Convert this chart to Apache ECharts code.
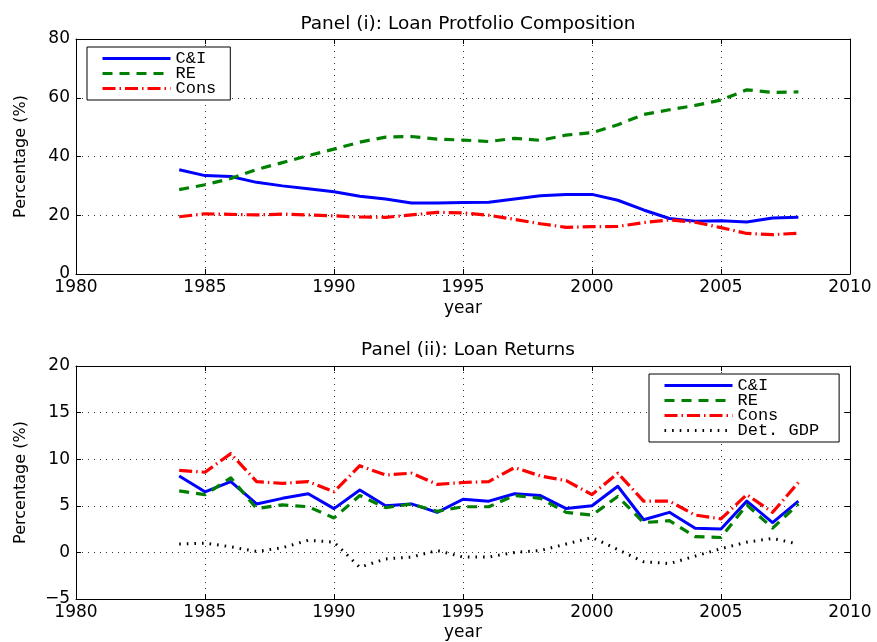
<!DOCTYPE html>
<html>
<head>
<meta charset="utf-8">
<script src="https://cdn.jsdelivr.net/npm/echarts@6/dist/echarts.min.js"></script>
<style>
  html, body { margin: 0; padding: 0; background: #fff; }
  #chart { width: 877px; height: 642px; }
</style>
</head>
<body>
<div id="chart"></div>
<script>
// Years covered by both panels
const years = [1984, 1985, 1986, 1987, 1988, 1989, 1990, 1991, 1992, 1993, 1994, 1995, 1996,
               1997, 1998, 1999, 2000, 2001, 2002, 2003, 2004, 2005, 2006, 2007, 2008];

// Panel (i): portfolio shares, %
const ciShare   = [35.5, 33.5, 33.2, 31.2, 30.0, 29.0, 28.0, 26.5, 25.5, 24.2, 24.2, 24.3, 24.4,
                   25.5, 26.6, 27.1, 27.1, 25.1, 21.8, 18.9, 18.0, 18.1, 17.7, 19.1, 19.3];
const reShare   = [28.7, 30.4, 32.5, 35.6, 37.9, 40.3, 42.5, 44.9, 46.6, 46.8, 45.9, 45.6, 45.1,
                   46.2, 45.5, 47.3, 48.1, 50.8, 54.3, 55.9, 57.4, 59.2, 62.7, 61.8, 62.0];
const consShare = [19.5, 20.5, 20.3, 20.1, 20.4, 20.1, 19.8, 19.4, 19.3, 20.1, 21.0, 20.8, 20.0,
                   18.6, 17.1, 15.9, 16.1, 16.2, 17.5, 18.4, 17.6, 15.8, 13.8, 13.4, 13.9];

// Panel (ii): loan returns and detrended GDP, %
const ciRet   = [8.2, 6.5, 7.6, 5.2, 5.8, 6.3, 4.7, 6.7, 5.0, 5.2, 4.3, 5.7, 5.5,
                 6.3, 6.1, 4.7, 5.0, 7.1, 3.5, 4.3, 2.6, 2.5, 5.5, 3.2, 5.5];
const reRet   = [6.6, 6.2, 8.0, 4.7, 5.1, 4.9, 3.7, 6.1, 4.8, 5.2, 4.4, 4.9, 4.9,
                 6.1, 5.8, 4.3, 4.0, 6.0, 3.2, 3.4, 1.7, 1.6, 5.1, 2.6, 5.2];
const consRet = [8.8, 8.6, 10.6, 7.6, 7.4, 7.6, 6.5, 9.3, 8.3, 8.5, 7.3, 7.5, 7.6,
                 9.1, 8.2, 7.7, 6.2, 8.5, 5.5, 5.5, 4.0, 3.6, 6.2, 4.3, 7.5];
const gdpDet  = [0.9, 1.0, 0.6, 0.1, 0.5, 1.3, 1.1, -1.6, -0.7, -0.5, 0.2, -0.5, -0.5,
                 0.0, 0.2, 0.9, 1.6, 0.3, -1.0, -1.2, -0.4, 0.4, 1.1, 1.5, 0.9];

// Axis tick settings
const xTicks = { min: 1980, max: 2010, interval: 5 };
const y1Ticks = { min: 0, max: 80, interval: 20 };
const y2Ticks = { min: -5, max: 20, interval: 5 };

const pairs = vals => years.map((yr, i) => [yr, vals[i]]);

const tickFont = { fontFamily: 'DejaVu Sans', fontSize: 17, color: '#000' };
const gridDots = { show: true, lineStyle: { color: '#333', width: 1, type: [1, 5] } };
const blackLine = { show: true, onZero: false, lineStyle: { color: '#000', width: 1 } };
const inTick = { show: true, inside: true, length: 5, lineStyle: { color: '#000' } };
const minus = v => String(v).replace('-', '\u2212');

const styles = {
  ci:   { color: '#0000ff', width: 3, type: 'solid' },
  re:   { color: '#008000', width: 3.2, type: [10, 7] },
  cons: { color: '#ff0000', width: 3.2, type: [13, 4, 1.5, 4] },
  gdp:  { color: '#000000', width: 3, type: [1.6, 6] }
};

function mainX(gi, nameGap) {
  return {
    type: 'value', gridIndex: gi, ...xTicks,
    name: 'year', nameLocation: 'middle', nameGap: nameGap,
    nameTextStyle: { fontFamily: 'DejaVu Sans', fontSize: 17, color: '#000' },
    axisLine: blackLine, axisTick: inTick, splitLine: gridDots,
    axisLabel: { ...tickFont, margin: 5, formatter: v => String(v) }
  };
}
function mirrorX(gi) {
  return {
    type: 'value', gridIndex: gi, position: 'top', ...xTicks,
    axisLine: blackLine, axisTick: inTick, splitLine: { show: false }, axisLabel: { show: false }
  };
}
function mainY(gi, ticks) {
  return {
    type: 'value', gridIndex: gi, ...ticks,
    name: 'Percentage (%)', nameLocation: 'middle', nameGap: 47,
    nameTextStyle: { fontFamily: 'DejaVu Sans', fontSize: 16, color: '#000' },
    axisLine: blackLine, axisTick: inTick, splitLine: gridDots,
    axisLabel: { ...tickFont, margin: 6, formatter: minus }
  };
}
function mirrorY(gi, ticks) {
  return {
    type: 'value', gridIndex: gi, position: 'right', ...ticks,
    axisLine: blackLine, axisTick: inTick, splitLine: { show: false }, axisLabel: { show: false }
  };
}
function line(name, vals, xi, yi, st) {
  return {
    name: name, type: 'line', xAxisIndex: xi, yAxisIndex: yi,
    data: pairs(vals), symbol: 'none', smooth: false, animation: false,
    lineStyle: { color: st.color, width: st.width, type: st.type, cap: 'butt', join: 'round' },
    itemStyle: { color: st.color }
  };
}

const legendBase = {
  orient: 'vertical', itemWidth: 68, itemHeight: 12, itemGap: -2,
  backgroundColor: '#fff', borderColor: '#000', borderWidth: 1, borderRadius: 0,
  itemStyle: { opacity: 0, borderWidth: 0 },
  lineStyle: { width: 3 },
  textStyle: { fontFamily: 'Liberation Mono', fontSize: 17, color: '#000', lineHeight: 15 },
  selectedMode: false, inactiveColor: '#000'
};

const chart = echarts.init(document.getElementById('chart'), null, { renderer: 'canvas' });
chart.setOption({
  animation: false,
  backgroundColor: '#fff',
  title: [
    { text: 'Panel (i): Loan Protfolio Composition', left: 463, top: 10, textAlign: 'center',
      textStyle: { fontFamily: 'DejaVu Sans', fontSize: 18.5, fontWeight: 'normal', color: '#000' } },
    { text: 'Panel (ii): Loan Returns', left: 463, top: 336, textAlign: 'center',
      textStyle: { fontFamily: 'DejaVu Sans', fontSize: 18.5, fontWeight: 'normal', color: '#000' } }
  ],
  grid: [
    { left: 76, right: 27, top: 39, height: 235 },
    { left: 76, right: 27, top: 366, height: 236 }
  ],
  xAxis: [mainX(0, 26), mirrorX(0), mainX(1, 25), mirrorX(1)],
  yAxis: [mainY(0, y1Ticks), mirrorY(0, y1Ticks), mainY(1, y2Ticks), mirrorY(1, y2Ticks)],
  legend: [
    { ...legendBase, left: 87, top: 47, padding: [3, 14, 3, 14], data: ['C&I', 'RE', 'Cons'] },
    { ...legendBase, left: 649, top: 374, padding: [3, 20, 3, 14], data: ['C&I ', 'RE ', 'Cons ', 'Det. GDP'] }
  ],
  series: [
    line('C&I', ciShare, 0, 0, styles.ci),
    line('RE', reShare, 0, 0, styles.re),
    line('Cons', consShare, 0, 0, styles.cons),
    line('C&I ', ciRet, 2, 2, styles.ci),
    line('RE ', reRet, 2, 2, styles.re),
    line('Cons ', consRet, 2, 2, styles.cons),
    line('Det. GDP', gdpDet, 2, 2, styles.gdp)
  ]
});
</script>
</body>
</html>
